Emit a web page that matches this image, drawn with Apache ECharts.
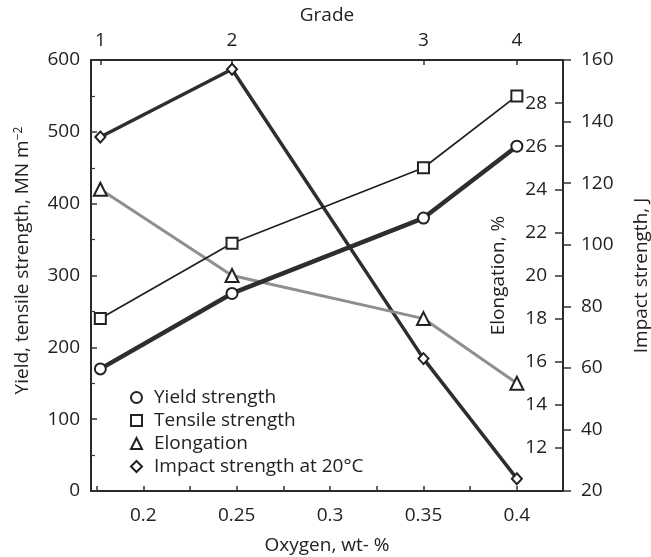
<!DOCTYPE html>
<html>
<head>
<meta charset="utf-8">
<script src="https://cdn.jsdelivr.net/npm/echarts@6/dist/echarts.min.js"></script>
<style>
  html, body { margin: 0; padding: 0; background: #fff; }
  #chart { width: 651px; height: 557px; }
</style>
</head>
<body>
<div id="chart"></div>
<script>
// Oxygen content of each titanium grade and the measured properties
const oxygen = [0.177, 0.2475, 0.35, 0.40];
const grades = ['1', '2', '3', '4'];
const yieldStrength = [170, 275, 380, 480];      // MN m^-2
const tensileStrength = [240, 345, 450, 550];    // MN m^-2
const elongation = [24, 20, 18, 15];             // %
const impactStrength = [135, 157, 63, 24];       // J
const oxygenLabels = [0.2, 0.25, 0.3, 0.35, 0.4];
const oxygenTicks = [0.175, 0.2, 0.225, 0.25, 0.275, 0.3, 0.325, 0.35, 0.375, 0.4];

const FONT = 'Open Sans';
const INK = '#222';
const X_MIN = 0.172, X_MAX = 0.4247;

const pairs = vals => oxygen.map((x, i) => [x, vals[i]]);

const axisLine = { show: true, lineStyle: { color: '#2a2a2a', width: 2 } };
const labelStyle = { color: INK, fontSize: 19, fontFamily: FONT };
const nameStyle = { color: INK, fontSize: 19, fontFamily: FONT };

const chart = echarts.init(document.getElementById('chart'), null, { renderer: 'canvas' });

chart.setOption({
  animation: false,
  backgroundColor: '#fff',
  grid: { left: 91, right: 88, top: 60, bottom: 66, containLabel: false, outerBoundsMode: 'none' },
  legend: {
    orient: 'vertical',
    left: 125,
    top: 383,
    itemWidth: 11,
    itemHeight: 11,
    itemGap: 4,
    textStyle: { color: INK, fontSize: 19, fontFamily: FONT, padding: [0, 0, 0, 7] },
    data: [
      { name: 'Yield strength', icon: 'emptyCircle' },
      { name: 'Tensile strength', icon: 'emptyRect' },
      { name: 'Elongation', icon: 'emptyTriangle' },
      { name: 'Impact strength at 20°C', icon: 'emptyDiamond' }
    ]
  },
  xAxis: [
    {
      type: 'value',
      position: 'bottom',
      min: X_MIN,
      max: X_MAX,
      name: 'Oxygen, wt- %',
      nameLocation: 'middle',
      nameGap: 45,
      nameMoveOverlap: false,
      nameTextStyle: nameStyle,
      axisLine: axisLine,
      axisTick: { show: true, inside: true, length: 5, customValues: oxygenTicks, lineStyle: { color: '#333', width: 1.5 } },
      axisLabel: Object.assign({ margin: 15, customValues: oxygenLabels, formatter: v => String(+v.toFixed(3)) }, labelStyle),
      splitLine: { show: false }
    },
    {
      type: 'value',
      position: 'top',
      min: X_MIN,
      max: X_MAX,
      name: 'Grade',
      nameLocation: 'middle',
      nameGap: 35,
      nameMoveOverlap: false,
      nameTextStyle: nameStyle,
      axisLine: axisLine,
      axisTick: { show: true, inside: true, length: 5, customValues: oxygen, lineStyle: { color: '#333', width: 1.5 } },
      axisLabel: Object.assign({
        margin: 10,
        customValues: oxygen,
        formatter: v => {
          let best = 0;
          oxygen.forEach((o, i) => { if (Math.abs(o - v) < Math.abs(oxygen[best] - v)) best = i; });
          return grades[best];
        }
      }, labelStyle),
      splitLine: { show: false }
    }
  ],
  yAxis: [
    {
      type: 'value',
      position: 'left',
      min: 0,
      max: 600,
      interval: 100,
      name: 'Yield, tensile strength, MN m{sup|−2}',
      nameLocation: 'middle',
      nameGap: 59,
      nameMoveOverlap: false,
      nameTextStyle: Object.assign({
        padding: [0, 0, 0, 30],
        rich: { sup: { fontSize: 12, fontFamily: FONT, color: INK, verticalAlign: 'top' } }
      }, nameStyle),
      axisLine: axisLine,
      axisTick: { show: true, inside: true, length: 6, lineStyle: { color: '#333', width: 1.5 } },
      minorTick: { show: true, splitNumber: 2, length: 4, lineStyle: { color: '#333', width: 1.2 } },
      axisLabel: Object.assign({ margin: 11 }, labelStyle),
      splitLine: { show: false }
    },
    {
      type: 'value',
      position: 'right',
      offset: 0,
      min: 10,
      max: 30,
      interval: 2,
      name: 'Elongation, %',
      nameLocation: 'middle',
      nameGap: -74,
      nameMoveOverlap: false,
      nameTextStyle: nameStyle,
      axisLine: { show: false },
      axisTick: { show: true, inside: true, length: 8, lineStyle: { color: '#333', width: 1.5 } },
      axisLabel: Object.assign({ inside: true, margin: 16, showMinLabel: false, showMaxLabel: false }, labelStyle),
      splitLine: { show: false }
    },
    {
      type: 'value',
      position: 'right',
      offset: 0,
      min: 20,
      max: 160,
      interval: 20,
      name: 'Impact strength, J',
      nameLocation: 'middle',
      nameGap: 69,
      nameMoveOverlap: false,
      nameTextStyle: nameStyle,
      axisLine: axisLine,
      axisTick: { show: true, inside: false, length: 8, lineStyle: { color: '#333', width: 1.5 } },
      axisLabel: Object.assign({ margin: 18 }, labelStyle),
      splitLine: { show: false }
    }
  ],
  series: [
    {
      name: 'Impact strength at 20°C',
      type: 'line',
      xAxisIndex: 0,
      yAxisIndex: 2,
      data: pairs(impactStrength),
      symbol: 'emptyDiamond',
      symbolSize: [10, 11],
      itemStyle: { color: INK, borderWidth: 1.6 },
      lineStyle: { color: '#2e2e2e', width: 3.5 },
      z: 2
    },
    {
      name: 'Elongation',
      type: 'line',
      xAxisIndex: 0,
      yAxisIndex: 1,
      data: pairs(elongation),
      symbol: 'emptyTriangle',
      symbolSize: 13,
      itemStyle: { color: INK, borderWidth: 1.6 },
      lineStyle: { color: '#8f8f8f', width: 3 },
      z: 3
    },
    {
      name: 'Tensile strength',
      type: 'line',
      xAxisIndex: 0,
      yAxisIndex: 0,
      data: pairs(tensileStrength),
      symbol: 'emptyRect',
      symbolSize: 11,
      itemStyle: { color: INK, borderWidth: 1.6 },
      lineStyle: { color: '#1e1e1e', width: 1.7 },
      z: 4
    },
    {
      name: 'Yield strength',
      type: 'line',
      xAxisIndex: 0,
      yAxisIndex: 0,
      data: pairs(yieldStrength),
      symbol: 'emptyCircle',
      symbolSize: 11,
      itemStyle: { color: INK, borderWidth: 1.6 },
      lineStyle: { color: '#2e2e2e', width: 4.5 },
      z: 5
    }
  ]
});
</script>
</body>
</html>
